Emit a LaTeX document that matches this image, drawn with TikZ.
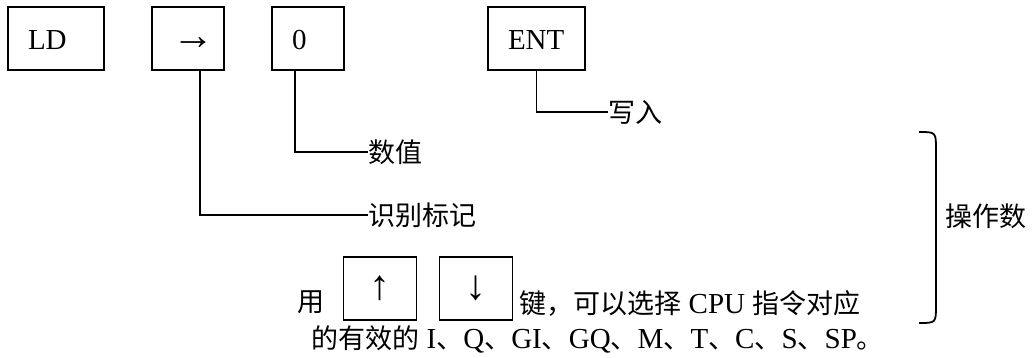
\documentclass[tikz,border=0pt]{standalone}
\usepackage{fontspec}
\setmainfont{Liberation Serif}
\newfontfamily\cjk{Noto Sans CJK SC}
\usetikzlibrary{positioning}
\newcommand\bigsz{\fontsize{14.5}{17}\selectfont}
\newcommand\cjksz{\cjk\fontsize{13.5}{16}\selectfont}
\newcommand\arrsz{\fontsize{21}{21}\selectfont}
\newcommand\dun{{\cjksz 、}}
\newcommand\juhao{{\cjksz 。}}
\tikzset{
  keybox/.style={draw,line width=0.9pt,outer sep=0pt,minimum height=31.5pt,inner xsep=10pt,inner ysep=0pt,text width=#1,text height=11pt,text depth=0pt,align=left,font=\bigsz},
  arrowbox/.style={draw,line width=0.9pt,outer sep=0pt,minimum width=36.5pt,minimum height=31.5pt,font=\arrsz},
  note/.style={anchor=west,inner sep=0pt,font=\cjksz},
  link/.style={line width=0.8pt}
}
\begin{document}
\begin{tikzpicture}[x=0.5pt,y=-0.5pt]
\useasboundingbox (0,0) rectangle (1033,358);
\node[keybox=28pt] (ld) at (56,38.5) {LD};
\node[keybox=16pt,right=24pt of ld] (arr) {\arrsz →};
\node[keybox=16pt,right=24pt of arr] (zero) {0};
\node[keybox=28.5pt,right=72pt of zero] (ent) {ENT};
\node[note] (write) at (608,112) {写入};
\node[note] (val) at (368,152) {数值};
\node[note] (mark) at (368,215) {识别标记};
\draw[link] (ent.south) |- (write.west);
\draw[link] ([xshift=-6.5pt]zero.south) |- (val.west);
\draw[link] ([xshift=6pt]arr.south) |- (mark.west);
\node[note] (yong) at (297,302) {用};
\node[arrowbox] (up) at (380,288.5) {↑};
\node[arrowbox,right=11.5pt of up] (down) {↓};
\node[anchor=base west,inner sep=0pt,font=\bigsz] (line1) at (519,313) {{\cjksz 键，可以选择} CPU {\cjksz 指令对应}};
\node[anchor=base west,inner sep=0pt,font=\bigsz] (line2) at (311,348) {{\cjksz 的有效的} I\dun Q\dun GI\dun GQ\dun M\dun T\dun C\dun S\dun SP\juhao};
\draw[line width=0.9pt] (919,132) .. controls (936,132) .. (936,150) -- (936,305) .. controls (936,323) .. (919,323);
\node[note] (opnd) at (945,216) {操作数};
\end{tikzpicture}
\end{document}
